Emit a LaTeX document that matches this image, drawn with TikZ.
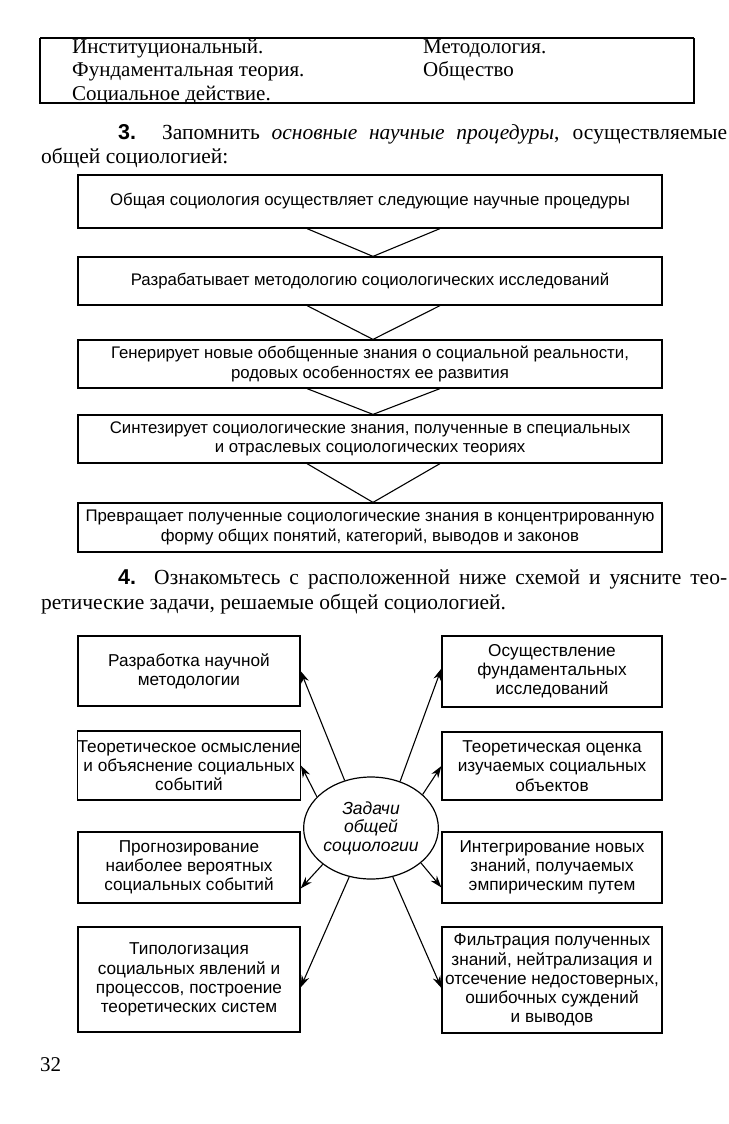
\documentclass[tikz,border=0pt]{standalone}
\usepackage{fontspec}
\setmainfont{Liberation Serif}
\setsansfont{Liberation Sans}
\usetikzlibrary{arrows.meta,shapes.geometric}
\begin{document}
\begin{tikzpicture}[x=1pt,y=-1pt,
  serif/.style={inner sep=0pt, font=\fontsize{21}{23.5}\selectfont},
  para/.style={inner sep=0pt, font=\fontsize{21.5}{24}\selectfont},
  flowbox/.style={draw, line width=1.2pt, minimum width=584pt, inner sep=0pt, align=center, font=\sffamily\fontsize{16.8}{19.5}\selectfont},
  taskbox/.style={draw, line width=1.2pt, minimum width=222pt, inner sep=0pt, align=center, font=\sffamily\fontsize{17.2}{19.2}\selectfont},
  hub/.style={ellipse, draw, line width=1.2pt, minimum width=112pt, minimum height=102pt, inner sep=0pt, align=center, font=\sffamily\itshape\fontsize{17.5}{18.5}\selectfont},
  link/.style={line width=1.1pt},
  arr/.style={line width=1.1pt, -{Stealth[length=12pt,width=8pt]}}
]
\useasboundingbox (0,0) rectangle (728,1124);
\fill[white] (0,0) rectangle (728,1124);

% top table
\coordinate (tl) at (40,38);
\coordinate (tr) at (694,38);
\coordinate (bl) at (40,103);
\coordinate (br) at (694,103);
\draw[line width=2.6pt] (tl) -- (tr);
\draw[line width=1.1pt] (tl) -- (bl) -- (br) -- (tr);
\node[serif, anchor=base west] (t1) at (72,53) {Институциональный.};
\node[serif, anchor=base west] (t2) at (72,77) {Фундаментальная теория.};
\node[serif, anchor=base west] (t3) at (72,100) {Социальное действие.};
\node[serif, anchor=base west] (t4) at (423,53) {Методология.};
\node[serif, anchor=base west] (t5) at (423,77) {Общество};

% paragraph 3
\node[para, anchor=base west] (p3a) at (118,139) {\makebox[609pt][s]{{\sffamily\bfseries 3.} Запомнить \textit{основные научные процедуры}, осуществляемые}};
\node[para, anchor=base west] (p3b) at (41,163) {общей социологией:};

% flow boxes
\node[flowbox, minimum height=53pt] (b1) at (370,201.5) {Общая социология осуществляет следующие научные процедуры};
\node[flowbox, minimum height=48pt] (b2) at (370,281) {Разрабатывает методологию социологических исследований};
\node[flowbox, minimum height=48pt] (b3) at (370,364) {Генерирует новые обобщенные знания о социальной реальности,\\родовых особенностях ее развития};
\node[flowbox, minimum height=48pt] (b4) at (370,439) {Синтезирует социологические знания, полученные в специальных\\и отраслевых социологических теориях};
\node[flowbox, minimum height=49pt] (b5) at (370,527.5) {Превращает полученные социологические знания в концентрированную\\форму общих понятий, категорий, выводов и законов};

\draw[link] ([xshift=-63pt]b1.south) -- ([xshift=3pt]b2.north) -- ([xshift=70pt]b1.south);
\draw[link] ([xshift=-63pt]b2.south) -- ([xshift=3pt]b3.north) -- ([xshift=70pt]b2.south);
\draw[link] ([xshift=-63pt]b3.south) -- ([xshift=3pt]b4.north) -- ([xshift=70pt]b3.south);
\draw[link] ([xshift=-63pt]b4.south) -- ([xshift=3pt]b5.north) -- ([xshift=70pt]b4.south);

% paragraph 4
\node[para, anchor=base west] (p4a) at (118,584) {\makebox[609pt][s]{{\sffamily\bfseries 4.} Ознакомьтесь с расположенной ниже схемой и уясните тео-}};
\node[para, anchor=base west] (p4b) at (41,609) {ретические задачи, решаемые общей социологией.};

% task boxes
\node[taskbox, minimum height=70pt] (L1) at (189,671) {Разработка научной\\методологии};
\node[taskbox, minimum height=69pt] (L2) at (189,765.5) {Теоретическое осмысление\\и объяснение социальных\\событий};
\node[taskbox, minimum height=71pt] (L3) at (189,867.5) {Прогнозирование\\наиболее вероятных\\социальных событий};
\node[taskbox, minimum height=105pt] (L4) at (189,979.5) {Типологизация\\социальных явлений и\\процессов, построение\\теоретических систем};

\node[taskbox, minimum width=220pt, minimum height=71pt] (R1) at (552,671.5) {Осуществление\\фундаментальных\\исследований};
\node[taskbox, minimum width=220pt, minimum height=68pt] (R2) at (552,766) {Теоретическая оценка\\изучаемых социальных\\объектов};
\node[taskbox, minimum width=220pt, minimum height=71pt] (R3) at (552,867.5) {Интегрирование новых\\знаний, получаемых\\эмпирическим путем};
\node[taskbox, minimum width=220pt, minimum height=106pt] (R4) at (552,980) {Фильтрация полученных\\знаний, нейтрализация и\\отсечение недостоверных,\\ошибочных суждений\\и выводов};

\node[hub] (C) at (371,828) {Задачи\\общей\\социологии};

\draw[arr] (C.119) -- (L1.east);
\draw[arr] (C.150) -- (L2.east);
\draw[arr] (C.217) -- ([yshift=-21pt]L3.east);
\draw[arr] (C.246) -- ([yshift=-8pt]L4.east);
\draw[arr] (C.58) -- ([yshift=3pt]R1.west);
\draw[arr] (C.33) -- (R2.west);
\draw[arr] (C.325) -- ([yshift=-20pt]R3.west);
\draw[arr] (C.294) -- ([yshift=-8pt]R4.west);

% page number
\node[serif, anchor=base west] (pg) at (40,1071) {32};
\end{tikzpicture}
\end{document}
